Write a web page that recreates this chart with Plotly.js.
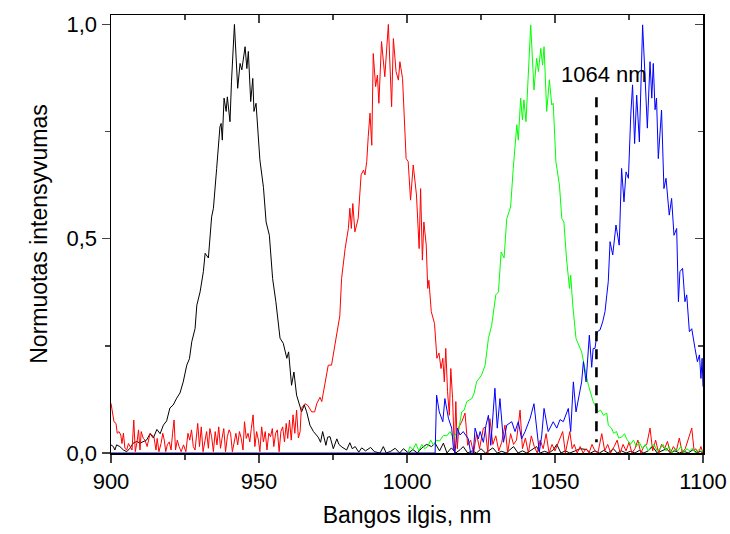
<!DOCTYPE html>
<html>
<head>
<meta charset="utf-8">
<script src="https://cdn.plot.ly/plotly-3.0.1.min.js"></script>
<style>html,body{margin:0;padding:0;background:#fff;}#chart{width:730px;height:534px;}</style>
</head>
<body>
<div id="chart"></div>
<script>
// ---- data ----
var blackWavelength = [
900.0,900.8,901.3,901.9,903.0,904.2,905.3,906.4,907.5,908.7,
909.8,910.9,912.0,913.2,914.3,915.5,916.6,917.7,918.8,919.9,
921.0,922.2,923.3,924.4,925.6,926.5,927.3,928.4,929.0,930.1,
931.2,931.8,932.9,934.0,934.6,935.7,936.3,936.8,937.2,937.6,
938.2,938.9,939.3,940.2,940.7,941.7,942.8,943.6,944.2,945.3,
945.9,946.4,947.2,947.9,948.3,949.0,950.3,951.5,952.4,953.5,
954.6,955.1,955.7,957.1,958.2,959.4,960.0,961.0,961.8,962.7,
964.4,965.3,966.1,967.2,968.4,970.0,970.8,971.5,972.6,973.2,
974.0,975.1,976.3,977.0,978.0,979.6,980.7,981.5,982.5,983.7,
984.7,986.0,987.7,989.0,990.9,992.0,993.0,994.5,996.0,997.5,
998.8,1000.5,1002.0,1003.5,1005.0,1006.6,1008.3,1009.5,1011.0,1012.3,
1013.5,1015.0,1016.5,1018.0,1019.0,1020.5,1022.0,1023.5,1025.0,1026.5,
1028.0,1029.0,1030.5,1032.0,1033.5,1035.0,1036.0,1037.5,1039.0,1040.5,
1042.0,1043.8,1045.0,1046.5,1048.0,1049.5,1050.6,1052.0,1053.5,1055.0,
1056.5,1058.5,1060.7,1062.0,1063.5,1065.0,1066.5,1068.0,1069.7,1071.0,
1072.5,1074.0,1075.5,1077.0,1078.5,1080.0,1081.5,1083.0,1084.5,1086.0,
1087.7,1089.0,1090.5,1092.0,1093.5,1095.0,1096.7,1098.0,1099.0,1100.0];
var blackIntensity = [
0.019,0.015,0.007,0.019,0.015,0.007,0.003,0.011,0.023,0.027,
0.023,0.027,0.030,0.045,0.035,0.055,0.045,0.065,0.075,0.105,
0.112,0.128,0.140,0.166,0.205,0.220,0.260,0.290,0.345,0.376,
0.423,0.466,0.455,0.551,0.571,0.664,0.711,0.761,0.769,0.730,
0.828,0.797,0.831,0.773,0.866,1.000,0.851,0.909,0.894,0.948,
0.897,0.937,0.820,0.874,0.797,0.816,0.684,0.620,0.539,0.508,
0.407,0.384,0.353,0.268,0.256,0.221,0.236,0.158,0.189,0.135,
0.096,0.112,0.096,0.065,0.050,0.037,0.025,0.050,0.018,0.037,
0.038,0.010,0.033,0.020,0.014,0.007,0.024,0.010,0.015,0.002,
0.012,0.005,0.013,0.003,0.000,0.015,0.000,0.004,0.011,0.000,
0.010,0.000,0.008,0.000,0.012,0.020,0.015,0.023,0.005,0.023,
0.000,0.012,0.000,0.008,0.015,0.000,0.005,0.000,0.010,0.000,
0.006,0.012,0.000,0.004,0.000,0.008,0.015,0.000,0.005,0.000,
0.006,0.015,0.000,0.004,0.000,0.008,0.020,0.000,0.005,0.000,
0.004,0.010,0.008,0.000,0.005,0.000,0.006,0.000,0.010,0.000,
0.005,0.000,0.004,0.000,0.006,0.000,0.005,0.015,0.000,0.004,
0.010,0.000,0.005,0.000,0.004,0.000,0.008,0.000,0.004,0.000];

var redWavelength = [
900.0,900.6,901.0,901.7,902.1,902.7,903.3,903.7,904.2,904.7,
905.3,905.9,906.4,907.1,907.7,908.2,908.8,909.3,909.8,910.2,
910.9,911.5,912.2,912.6,913.2,913.8,914.5,915.2,915.6,916.2,
916.9,917.5,918.0,918.5,919.0,919.7,920.3,920.8,921.3,921.8,
922.4,923.0,923.7,924.5,925.3,926.0,926.6,927.2,927.8,928.4,
929.3,929.9,930.5,931.1,931.7,932.3,932.9,933.4,934.0,934.6,
935.2,935.8,936.4,937.0,937.5,938.1,938.7,939.3,939.9,940.4,
941.0,941.6,942.2,942.8,943.4,944.0,944.6,945.1,945.7,946.3,
946.9,947.4,948.0,948.6,949.2,949.8,950.3,950.9,951.5,952.1,
952.7,953.3,953.9,954.5,955.0,955.6,956.2,956.8,957.4,958.0,
958.6,959.2,959.7,960.3,960.9,961.5,962.1,962.7,963.3,963.9,
964.3,965.5,966.5,967.8,968.8,969.5,970.6,971.2,972.3,973.4,
974.5,975.1,976.2,977.3,977.9,979.1,980.2,980.7,981.2,981.7,
982.4,983.5,984.5,985.3,985.8,986.4,986.9,987.5,988.1,988.6,
989.4,990.0,990.5,991.4,992.5,993.7,994.8,995.4,996.3,997.1,
997.6,998.5,999.7,1000.4,1001.2,1002.1,1003.2,1004.1,1004.6,1005.2,
1005.7,1006.5,1007.0,1007.4,1008.2,1009.3,1010.1,1010.8,1011.5,1012.1,
1012.6,1013.1,1013.7,1014.3,1014.8,1015.4,1016.0,1016.5,1017.0,1017.5,
1018.5,1019.6,1020.5,1021.5,1022.5,1023.5,1024.5,1025.8,1026.4,1027.3,
1028.0,1029.0,1030.0,1031.0,1032.0,1033.1,1034.0,1035.0,1036.0,1037.0,
1038.2,1039.0,1040.0,1041.0,1042.0,1043.0,1044.0,1045.0,1046.0,1047.0,
1048.0,1049.0,1050.0,1051.4,1052.6,1053.5,1055.0,1055.8,1056.5,1057.5,
1058.5,1059.5,1060.5,1061.5,1062.5,1063.5,1064.5,1065.8,1066.8,1067.8,
1068.8,1070.0,1071.0,1072.0,1073.0,1074.0,1075.0,1076.0,1077.0,1078.0,
1079.0,1080.0,1081.0,1082.1,1083.0,1084.0,1085.0,1086.0,1087.0,1088.0,
1089.0,1090.0,1091.0,1092.0,1093.0,1094.0,1096.2,1097.0,1097.5,1098.5,
1099.3,1100.0];
var redIntensity = [
0.116,0.093,0.073,0.069,0.046,0.050,0.042,0.022,0.046,0.011,
0.007,0.022,0.015,0.007,0.077,0.003,0.026,0.054,0.007,0.050,
0.034,0.030,0.015,0.026,0.046,0.042,0.038,0.007,0.034,0.003,
0.022,0.046,0.030,0.003,0.019,0.026,0.007,0.046,0.077,0.007,
0.030,0.015,0.003,0.019,0.003,0.046,0.030,0.054,0.015,0.007,
0.069,0.015,0.061,0.003,0.026,0.050,0.011,0.057,0.038,0.003,
0.050,0.019,0.061,0.011,0.034,0.057,0.003,0.038,0.054,0.046,
0.003,0.030,0.046,0.019,0.050,0.034,0.007,0.073,0.034,0.046,
0.026,0.057,0.089,0.015,0.050,0.030,0.003,0.061,0.026,0.050,
0.007,0.046,0.038,0.057,0.015,0.046,0.054,0.003,0.050,0.061,
0.026,0.069,0.034,0.077,0.030,0.089,0.046,0.100,0.035,0.050,
0.104,0.115,0.111,0.096,0.096,0.115,0.130,0.120,0.166,0.205,
0.205,0.229,0.267,0.320,0.407,0.477,0.524,0.571,0.524,0.582,
0.516,0.547,0.649,0.660,0.649,0.680,0.738,0.793,0.718,0.932,
0.855,0.882,0.816,0.960,0.878,1.000,0.808,0.967,0.890,0.870,
0.913,0.874,0.687,0.680,0.590,0.672,0.602,0.477,0.617,0.450,
0.539,0.485,0.384,0.403,0.330,0.302,0.221,0.233,0.197,0.221,
0.166,0.244,0.143,0.088,0.197,0.127,0.005,0.120,0.010,0.060,
0.073,0.093,0.018,0.030,0.000,0.045,0.010,0.058,0.060,0.000,
0.080,0.020,0.040,0.005,0.025,0.065,0.000,0.045,0.020,0.030,
0.100,0.010,0.035,0.000,0.040,0.015,0.000,0.030,0.010,0.045,
0.000,0.020,0.005,0.027,0.050,0.000,0.050,0.010,0.020,0.000,
0.015,0.000,0.010,0.000,0.020,0.005,0.000,0.045,0.005,0.020,
0.000,0.015,0.030,0.000,0.020,0.005,0.025,0.000,0.010,0.030,
0.000,0.015,0.020,0.058,0.005,0.030,0.000,0.020,0.010,0.027,
0.000,0.015,0.005,0.035,0.000,0.010,0.058,0.005,0.010,0.000,
0.015,0.000];

var greenWavelength = [
1000.3,1001.0,1002.0,1003.0,1004.0,1005.0,1006.0,1007.0,1008.0,1008.9,
1010.0,1011.0,1012.3,1013.5,1014.5,1015.7,1016.5,1017.35,1018.5,1019.3,
1020.2,1021.9,1022.7,1023.5,1025.2,1026.4,1027.5,1028.6,1030.0,1030.9,
1031.8,1032.8,1033.7,1035.0,1035.9,1037.1,1037.6,1038.4,1039.0,1039.5,
1040.2,1041.0,1041.8,1042.9,1043.8,1044.4,1045.2,1045.8,1046.3,1047.2,
1048.1,1048.9,1049.4,1050.3,1051.5,1052.3,1053.0,1053.9,1054.9,1055.3,
1056.0,1057.1,1058.2,1059.0,1060.1,1061.3,1062.9,1064.6,1065.4,1066.4,
1067.5,1068.0,1069.1,1069.8,1070.8,1071.5,1072.5,1073.5,1074.2,1075.5,
1076.5,1077.5,1078.5,1079.5,1080.5,1081.5,1082.5,1083.5,1084.5,1085.5,
1086.5,1087.5,1088.5,1089.5,1090.5,1091.5,1092.5,1093.5,1094.5,1095.5,
1096.5,1097.5,1098.5,1099.5,1100.0];
var greenIntensity = [
0.000,0.015,0.008,0.022,0.005,0.020,0.010,0.015,0.030,0.019,
0.030,0.028,0.041,0.040,0.050,0.035,0.045,0.050,0.096,0.100,
0.120,0.127,0.140,0.166,0.182,0.205,0.267,0.298,0.369,0.376,
0.469,0.455,0.547,0.574,0.664,0.766,0.730,0.828,0.777,0.824,
0.773,0.871,0.999,0.847,0.921,0.890,0.944,0.905,0.948,0.797,
0.871,0.812,0.816,0.680,0.625,0.547,0.539,0.453,0.384,0.415,
0.345,0.267,0.250,0.236,0.197,0.158,0.120,0.096,0.100,0.088,
0.093,0.065,0.058,0.046,0.050,0.035,0.037,0.045,0.033,0.020,
0.030,0.015,0.025,0.010,0.020,0.005,0.015,0.020,0.005,0.010,
0.020,0.005,0.015,0.000,0.010,0.005,0.015,0.000,0.010,0.005,
0.012,0.000,0.008,0.003,0.005];

var blueWavelength = [
900.0,1009.5,1010.0,1010.9,1012.1,1012.8,1014.0,1015.1,1015.7,1016.2,
1017.0,1017.9,1019.0,1020.7,1021.5,1022.4,1023.0,1024.1,1024.7,1025.8,
1026.7,1027.5,1028.3,1029.7,1030.5,1031.4,1032.6,1033.7,1035.4,1036.5,
1037.6,1038.7,1039.9,1041.6,1042.9,1043.8,1044.7,1045.5,1046.3,1047.7,
1049.4,1050.6,1051.7,1052.8,1054.5,1055.3,1056.2,1057.1,1057.9,1059.0,
1059.6,1060.5,1061.6,1062.4,1062.9,1063.5,1064.3,1065.2,1066.1,1066.9,
1067.5,1068.0,1068.6,1069.5,1070.6,1071.7,1072.5,1073.3,1074.0,1074.8,
1075.6,1076.2,1076.9,1077.6,1078.5,1079.6,1080.4,1081.2,1082.1,1082.7,
1083.2,1083.8,1084.3,1084.9,1086.0,1086.8,1087.5,1088.6,1089.4,1090.2,
1091.1,1091.7,1092.2,1093.1,1093.9,1094.5,1095.4,1096.2,1097.3,1098.1,
1098.8,1099.3,1099.7,1100.0];
var blueIntensity = [
0.000,0.000,0.135,0.096,0.073,0.127,0.081,0.058,0.010,0.000,
0.058,0.042,0.050,0.033,0.000,0.000,0.058,0.033,0.050,0.025,
0.065,0.088,0.018,0.151,0.058,0.127,0.025,0.065,0.073,0.050,
0.073,0.033,0.050,0.081,0.115,0.065,0.002,0.040,0.104,0.050,
0.073,0.058,0.078,0.073,0.104,0.050,0.166,0.096,0.127,0.166,
0.213,0.166,0.275,0.200,0.244,0.244,0.283,0.287,0.306,0.330,
0.369,0.400,0.493,0.462,0.532,0.485,0.664,0.586,0.656,0.641,
0.789,0.859,0.722,0.835,0.726,0.999,0.882,0.758,0.913,0.828,
0.909,0.801,0.828,0.687,0.800,0.617,0.641,0.555,0.594,0.508,
0.524,0.353,0.423,0.431,0.353,0.369,0.283,0.290,0.244,0.213,
0.229,0.174,0.221,0.155];

var laserWavelength = [1064, 1064];
var laserMarkerSpan = [0.83, 0.025];
var laserLabel = "1064 nm";
var laserLabelPos = [1066.6, 0.884];

var xTitle = "Bangos ilgis, nm";
var yTitle = "Normuotas intensyvumas";

// ---- chart ----
var FONT = "Arial, 'Liberation Sans', sans-serif";
function spectrum(x, y, color) {
  return {x: x, y: y, type: "scatter", mode: "lines",
          line: {color: color, width: 1}, hoverinfo: "skip"};
}
var traces = [
  spectrum(blackWavelength, blackIntensity, "#000000"),
  spectrum(redWavelength, redIntensity, "#ff0000"),
  spectrum(greenWavelength, greenIntensity, "#00ff00"),
  spectrum(blueWavelength, blueIntensity, "#0000ff"),
  {x: laserWavelength, y: laserMarkerSpan, type: "scatter", mode: "lines",
   line: {color: "#000000", width: 2.6, dash: "10px,8px"}, hoverinfo: "skip"},
  {x: [], y: [], xaxis: "x2", yaxis: "y2", type: "scatter", mode: "lines", hoverinfo: "skip"}
];

var xr = [900, 1100], yr = [0, 1.022];
var layout = {
  width: 730, height: 534,
  margin: {l: 111, r: 27, t: 15, b: 81, pad: 0},
  paper_bgcolor: "#ffffff", plot_bgcolor: "#ffffff",
  showlegend: false,
  separators: ", ",
  font: {family: FONT, size: 22, color: "#000"},
  xaxis: {
    range: xr, tick0: 900, dtick: 50, ticks: "outside", ticklen: 8, tickwidth: 1.5,
    minor: {dtick: 25, ticks: "outside", ticklen: 5, tickwidth: 1.5, showgrid: false},
    showline: true, linewidth: 1.5, linecolor: "#000", mirror: true, layer: "below traces",
    showgrid: false, zeroline: false,
    tickfont: {family: FONT, size: 22, color: "#000"},
    title: {text: xTitle, font: {family: FONT, size: 23, color: "#000"}, standoff: 14}
  },
  yaxis: {
    range: yr, tick0: 0, dtick: 0.5, tickformat: ".1f", ticks: "outside", ticklen: 8, tickwidth: 1.5,
    minor: {dtick: 0.25, ticks: "outside", ticklen: 5, tickwidth: 1.5, showgrid: false},
    showline: true, linewidth: 1.5, linecolor: "#000", mirror: true,
    showgrid: false, zeroline: false,
    tickfont: {family: FONT, size: 22, color: "#000"},
    title: {text: yTitle, font: {family: FONT, size: 23, color: "#000"}, standoff: 12}
  },
  xaxis2: {
    overlaying: "x", side: "top", anchor: "y2", range: xr, tick0: 900, dtick: 50,
    ticks: "inside", ticklen: 8, tickwidth: 1.5,
    minor: {dtick: 25, ticks: "inside", ticklen: 5, tickwidth: 1.5, showgrid: false},
    showticklabels: false, showline: false, showgrid: false, zeroline: false
  },
  yaxis2: {
    overlaying: "y", side: "right", anchor: "x2", range: yr, tick0: 0, dtick: 0.5,
    ticks: "inside", ticklen: 8, tickwidth: 1.5,
    minor: {dtick: 0.25, ticks: "inside", ticklen: 5, tickwidth: 1.5, showgrid: false},
    showticklabels: false, showline: false, showgrid: false, zeroline: false
  },
  annotations: [{
    x: laserLabelPos[0], y: laserLabelPos[1], xref: "x", yref: "y",
    text: laserLabel, showarrow: false, xanchor: "center", yanchor: "middle",
    font: {family: FONT, size: 22, color: "#000"}
  }]
};

Plotly.newPlot("chart", traces, layout, {staticPlot: true, displayModeBar: false});
</script>
</body>
</html>
